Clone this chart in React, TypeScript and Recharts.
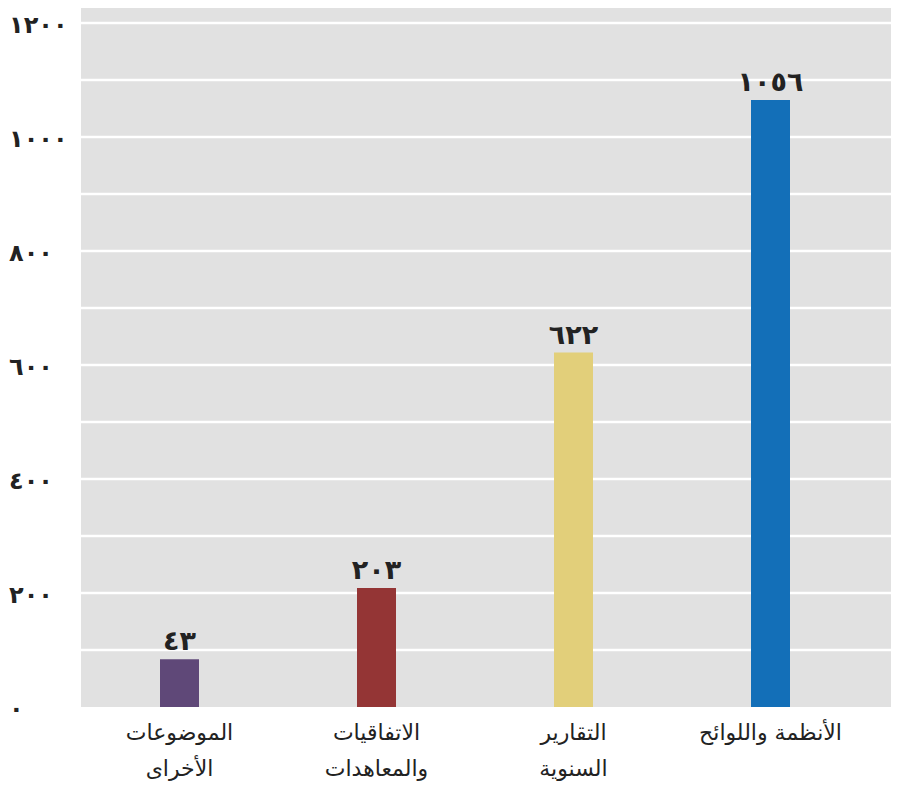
import { BarChart, Bar, XAxis, YAxis, CartesianGrid, Cell, LabelList } from "recharts";

// left to right, as in the picture
const categories = ["الموضوعات\nالأخراى", "الاتفاقيات\nوالمعاهدات", "التقارير\nالسنوية", "الأنظمة واللوائح"];
const labelValues = [43, 203, 622, 1056];
// bar heights as drawn in the picture (the small bars are drawn taller than their labels)
const barHeights = [84, 209, 622, 1065];
const barColors = ["#5f4878", "#943535", "#e2cf7a", "#136fb8"];
const yTicks = [0, 100, 200, 300, 400, 500, 600, 700, 800, 900, 1000, 1100, 1200];
const yLabelTicks = [0, 200, 400, 600, 800, 1000, 1200];

const data = categories.map((name, i) => ({
  name,
  value: barHeights[i],
  label: labelValues[i],
}));

const arabicDigits = "٠١٢٣٤٥٦٧٨٩";
const toArabic = (n: number | string) =>
  String(n).replace(/[0-9]/g, (d) => arabicDigits[Number(d)]);

const FONT = "'DejaVu Sans', sans-serif";

function YTick({ y, payload }: any) {
  if (!yLabelTicks.includes(payload.value)) return <g />;
  return (
    <text x={9} y={y + 2} dy="0.35em" textAnchor="start" fontFamily={FONT} fontWeight="bold" fontSize={24} fill="#222">
      {toArabic(payload.value)}
    </text>
  );
}

function XTick({ x, y, payload }: any) {
  const lines = String(payload.value).split("\n");
  return (
    <g>
      {lines.map((line, i) => (
        <text
          key={i}
          x={x}
          y={y + 33 + i * 36}
          textAnchor="middle"
          direction="rtl"
          fontFamily={FONT}
          fontSize={22}
          fill="#222"
        >
          {line}
        </text>
      ))}
    </g>
  );
}

export default function App() {
  return (
    <div style={{ margin: -8 }}>
      <BarChart width={899} height={791} data={data} margin={{ top: 6, right: 6, left: 0, bottom: 0 }}>
        <CartesianGrid
          vertical={false}
          stroke="#ffffff"
          strokeWidth={2.5}
          fill="#e1e1e1"
          horizontalValues={yTicks.slice(1)}
        />
        <XAxis
          dataKey="name"
          axisLine={false}
          tickLine={false}
          tickSize={0}
          tickMargin={0}
          height={84}
          interval={0}
          padding={{ left: 0, right: 24 }}
          tick={<XTick />}
        />
        <YAxis
          type="number"
          domain={[0, 1230]}
          ticks={yTicks}
          interval={0}
          axisLine={false}
          tickLine={false}
          width={81}
          tick={<YTick />}
        />
        <Bar dataKey="value" barSize={39} isAnimationActive={false}>
          {data.map((d, i) => (
            <Cell key={i} fill={barColors[i]} />
          ))}
          <LabelList
            dataKey="label"
            position="top"
            offset={9}
            formatter={(v: any) => toArabic(v)}
            style={{ fontFamily: FONT, fontWeight: "bold", fontSize: 27, fill: "#222" }}
          />
        </Bar>
      </BarChart>
    </div>
  );
}
